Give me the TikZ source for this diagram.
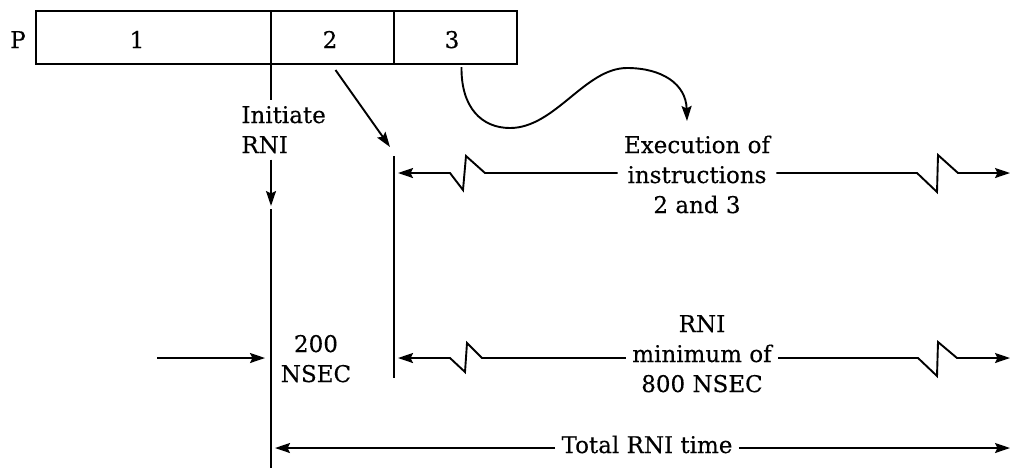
\documentclass[tikz,border=0pt]{standalone}
\usepackage{fontspec}
\setmainfont[FakeBold=0.3]{DejaVu Serif}
\usetikzlibrary{arrows.meta}
\begin{document}
\begin{tikzpicture}[x=0.5pt,y=-0.5pt,
  ln/.style={line width=0.95pt},
  arr/.style={ln,-{Stealth[length=7.5pt,width=5pt,inset=1.2pt]}},
  lbl/.style={font=\fontsize{11.5}{15}\selectfont, inner sep=0pt},
  txt/.style={lbl, align=center, inner xsep=3pt},
  cell/.style={draw, line width=0.95pt, minimum height=26.5pt, inner sep=0pt, outer sep=0pt, anchor=north west}]
\useasboundingbox (0,0) rectangle (1011,468);
% register
\node[cell, minimum width=117.5pt] (c1) at (36,11) {};
\node[cell, minimum width=61.5pt] (c2) at (c1.north east) {};
\node[cell, minimum width=61.5pt] (c3) at (c2.north east) {};
\node[lbl, anchor=base] (p) at (18,48) {P};
\node[lbl, anchor=base] (d1) at (137,48) {1};
\node[lbl, anchor=base] (d2) at (330,48) {2};
\node[lbl, anchor=base] (d3) at (452,48) {3};
% labels (base = baseline of last line)
\node[lbl, align=left, anchor=base west, inner ysep=3pt] (init) at (241,153) {Initiate\\RNI};
\node[txt, anchor=base] (exec) at (697,213) {Execution of\\instructions\\2 and 3};
\node[txt, anchor=base] (rni) at (702,392) {RNI\\minimum of\\800 NSEC};
\node[lbl, align=center, anchor=base] (ns) at (316,382) {200\\NSEC};
\node[txt, anchor=base] (tot) at (647,453) {Total RNI time};
% coordinates
\coordinate (iTip) at (271,206);
\coordinate (iLow) at (271,209);
\coordinate (iEnd) at (271,468);
\coordinate (v2t) at (394,156);
\coordinate (v2b) at (394,378);
\coordinate (dTip) at (390,147);
\coordinate (cTip) at (687,121);
\coordinate (exL) at (398,173);
\coordinate (exR) at (1010,173);
\coordinate (rnL) at (398,358);
\coordinate (rnR) at (1010,358);
\coordinate (nsS) at (157,358);
\coordinate (nsT) at (265,358);
\coordinate (toL) at (275,448);
\coordinate (toR) at (1010,448);
% Initiate RNI line
\draw[ln] (c1.south east) -- (c1.south east |- init.north);
\draw[arr] (iTip |- init.south) -- (iTip);
\draw[ln] (iLow) -- (iEnd);
% second vertical
\draw[ln] (v2t) -- (v2b);
% arrow from 2
\draw[arr] ([shift={(3,6)}]c2.south) -- (dTip);
% curve from 3
\draw[arr] ([shift={(6,3)}]c3.south) .. controls (461,108) and (482,128) .. (510,128)
  .. controls (555,128) and (585,68) .. (627,68)
  .. controls (662,68) and (686,84) .. (cTip);
% execution arrows
\draw[arr] (exec.west |- exL) -- (485,173) -- (466,156) -- (463,190) -- (450,173) -- (exL);
\draw[arr] (exec.east |- exR) -- (917,173) -- (937,192) -- (938,155) -- (958,173) -- (exR);
% RNI arrows
\draw[arr] (rni.west |- rnL) -- (482,358) -- (467,343) -- (465,372) -- (450,358) -- (rnL);
\draw[arr] (rni.east |- rnR) -- (918,358) -- (937,376) -- (938,342) -- (957,358) -- (rnR);
% 200 NSEC arrow
\draw[arr] (nsS) -- (nsT);
% total
\draw[arr] (tot.west |- toL) -- (toL);
\draw[arr] (tot.east |- toR) -- (toR);
\end{tikzpicture}
\end{document}
